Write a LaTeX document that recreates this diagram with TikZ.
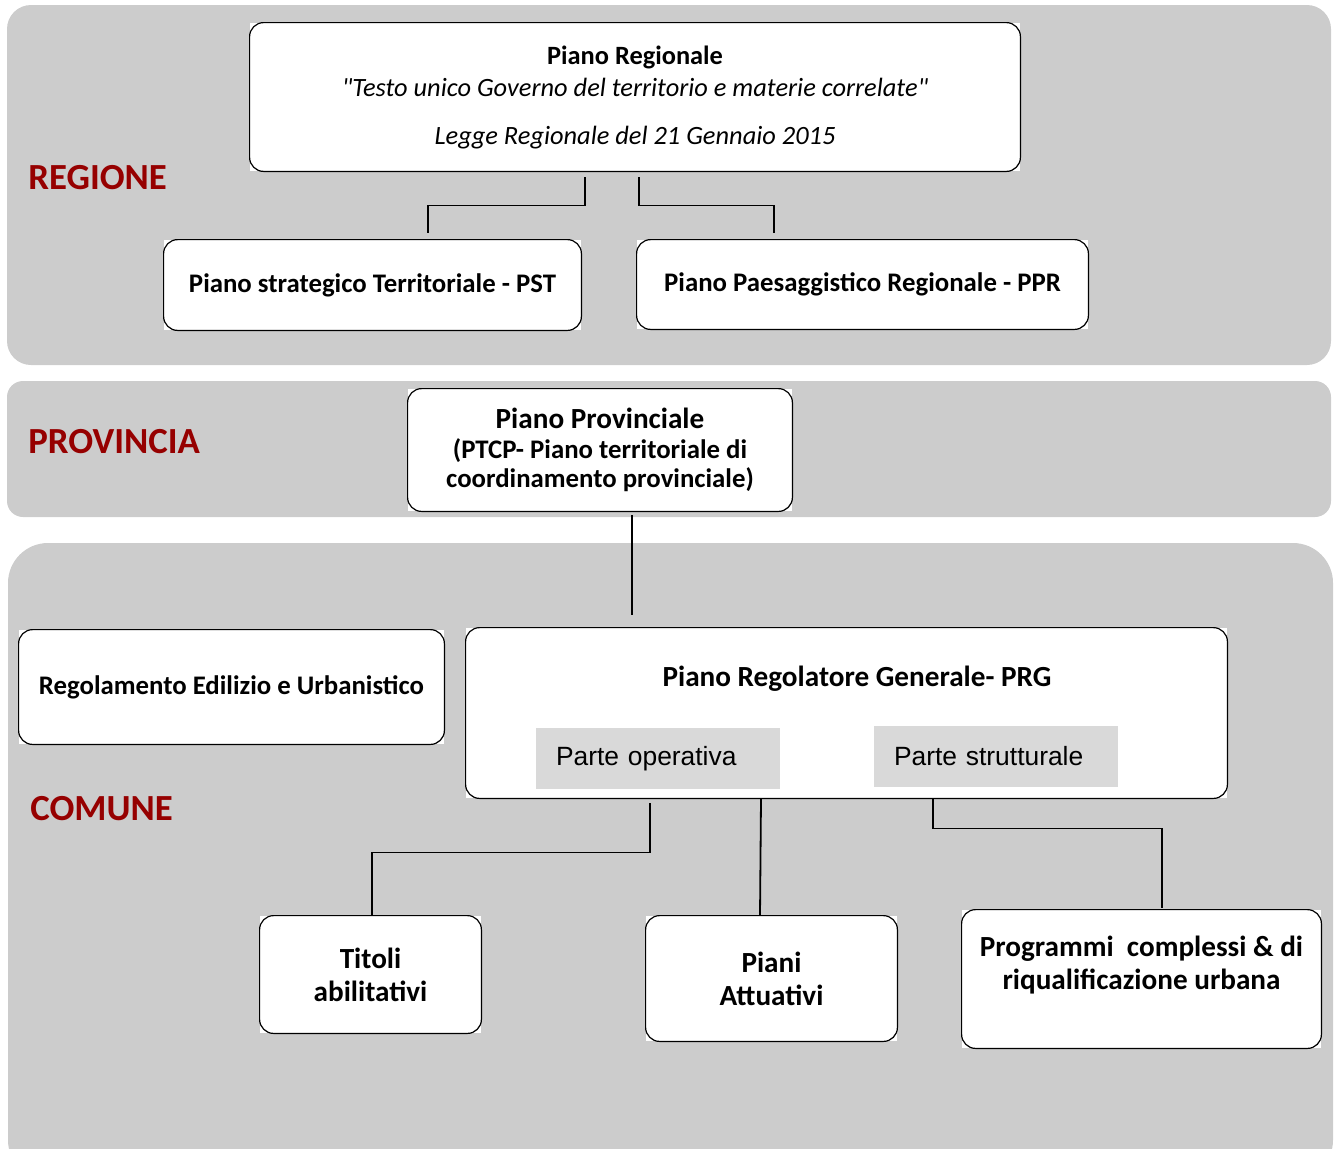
\documentclass[tikz,border=0pt]{standalone}
\usepackage{fontspec}
\setmainfont{Carlito}[Ligatures=TeXOff]
\newfontfamily\arialfont{Liberation Sans}
\usepackage{tikz}
\usetikzlibrary{positioning}
\definecolor{panelgray}{RGB}{204,204,204}
\definecolor{partgray}{RGB}{217,217,217}
\definecolor{levelred}{RGB}{150,0,0}
\tikzstyle{panel} = [fill=panelgray, draw=none]
\tikzstyle{level} = [anchor=west, inner sep=0pt, text=levelred, font=\bfseries\fontsize{18.4}{22}\selectfont]
\tikzstyle{plan} = [rectangle, fill=white, text centered, align=center, font=\bfseries\fontsize{13.4}{16}\selectfont]
\tikzstyle{bigplan} = [plan, font=\bfseries\fontsize{14.6}{16.5}\selectfont]
\tikzstyle{frame} = [draw=black, line width=0.6pt, rounded corners=7pt]
\tikzstyle{part} = [rectangle, fill=partgray, minimum width=122pt, minimum height=30.5pt, inner xsep=10pt, text width=102pt, align=left, font=\arialfont\fontsize{13.2}{15}\selectfont]
\tikzstyle{link} = [line width=0.9pt]

\begin{document}
\begin{tikzpicture}[x=0.5pt, y=-0.5pt]
\useasboundingbox (0,0) rectangle (1337,1148);
\clip (0,0) rectangle (1337,1148);

\fill[panel, rounded corners=12pt] (7,5) rectangle (1331,365);
\fill[panel, rounded corners=8pt] (7,381) rectangle (1331,517);
\fill[panel, rounded corners=20pt] (8,543) rectangle (1333,1180);

\node (regione) [level] at (28,178) {REGIONE};
\node (provincia) [level] at (28,442) {PROVINCIA};
\node (comune) [level] at (30,809) {COMUNE};

\node (reg) [plan, minimum width=385pt, minimum height=74pt, font=\bfseries\fontsize{13.2}{16}\selectfont] at (635,97) {Piano Regionale\\ {\mdseries\itshape "Testo unico Governo del territorio e materie correlate"}\\[8pt] {\mdseries\itshape Legge Regionale del 21 Gennaio 2015}};
\node (pst) [plan, minimum width=208.5pt, minimum height=45pt] at (372.5,285) {Piano strategico Territoriale - PST};
\node (ppr) [plan, minimum width=225.5pt, minimum height=44.5pt] at (862.5,284.5) {Piano Paesaggistico Regionale - PPR};

\node (prov) [plan, minimum width=192pt, minimum height=61pt, font=\bfseries\fontsize{13.4}{14.8}\selectfont] at (600,450) {{\fontsize{14.6}{16}\selectfont Piano Provinciale}\\ (PTCP- Piano territoriale di\\ coordinamento provinciale)};

\node (rue) [plan, minimum width=212.5pt, minimum height=57pt] at (231.5,687) {Regolamento Edilizio e Urbanistico};
\node (prg) [plan, minimum width=380.5pt, minimum height=85pt] at (846.5,713) {};
\node (prgtitle) [anchor=base, font=\bfseries\fontsize{14.6}{16}\selectfont] at (857,686) {Piano Regolatore Generale- PRG};
\node (oper) [part] at (658,758.5) {Parte operativa};
\node (strut) [part] at (996,756.5) {Parte strutturale};

\node (tit) [bigplan, minimum width=110.5pt, minimum height=58.5pt] at (370.5,974.5) {Titoli\\ abilitativi};
\node (pia) [bigplan, minimum width=125.5pt, minimum height=62.5pt] at (771.5,978.5) {Piani\\ Attuativi};
\node (prog) [bigplan, minimum width=179.5pt, minimum height=69pt] at (1141.5,979) {Programmi~ complessi \& di\\ riqualificazione urbana\\ \mbox{}};

\foreach \n in {reg, pst, ppr, prov, rue, prg, tit, pia, prog}
  \draw[frame] (\n.south west) rectangle (\n.north east);

\draw[link, shorten <=3pt, shorten >=3.5pt] (reg.south -| 585,0) -- ++(0,34) -| (pst.north -| 428,0);
\draw[link, shorten <=3pt, shorten >=3.5pt] (reg.south -| 639,0) -- ++(0,34) -| (ppr.north -| 774,0);
\draw[link, shorten <=2pt, shorten >=6.5pt] (prov.south -| 632,0) -- (prg.north -| 632,0);
\draw[link, shorten <=2.5pt] (prg.south -| 650,0) -- ++(0,54) -| (tit.north -| 372,0);
\draw[link] (prg.south -| 761,0) -- (pia.north -| 760,0);
\draw[link, shorten >=1pt] (prg.south -| 933,0) -- ++(0,30) -| (prog.north -| 1162,0);

\end{tikzpicture}
\end{document}
